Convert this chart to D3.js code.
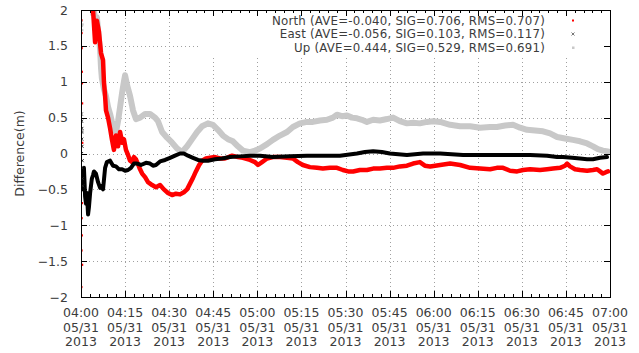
<!DOCTYPE html>
<html>
<head>
<meta charset="utf-8">
<script src="https://cdn.jsdelivr.net/npm/d3@7"></script>
<style>
  html, body { margin: 0; padding: 0; background: #fff; }
  svg { display: block; font-family: "DejaVu Sans", sans-serif; }
</style>
</head>
<body>
<svg id="chart" width="639" height="353"></svg>
<script>
// ---- data (minutes after 04:00 on 05/31/2013, difference in metres) ----
const upT = [4.1,4.4,4.8,5.1,5.4,6.1,6.5,6.8,7.1,7.8,8.5,9.2,9.9,10.5,11.2,11.9,12.6,13.3,14.0,14.6,15.0,15.7,16.7,17.7,18.7,20.1,21.8,23.5,25.2,26.2,27.6,29.3,31.0,32.7,34.4,36.1,37.8,39.5,41.2,43.2,44.9,46.6,48.3,50.0,51.7,53.4,55.1,57.5,59.2,60.9,63.3,65.3,67.7,70.1,72.1,74.5,76.9,78.9,81.3,83.7,85.7,87.1,88.8,90.5,92.2,93.9,95.6,97.3,99.4,101.7,104.1,106.2,108.5,110.9,113.0,115.3,117.7,119.8,122.2,125.6,129.0,132.4,135.8,139.2,141.5,144.3,147.0,149.4,151.8,154.5,157.2,159.6,162.0,164.7,167.4,169.8,172.2,174.2,175.9,177.6,179.3];
const upV = [1.95,2.0,1.85,1.7,1.9,1.6,1.45,1.2,1.05,0.9,0.8,0.65,0.55,0.45,0.35,0.3,0.45,0.65,0.85,1.0,1.09,0.95,0.8,0.6,0.48,0.5,0.55,0.55,0.5,0.45,0.3,0.22,0.15,0.07,0.02,0.1,0.2,0.3,0.38,0.42,0.4,0.33,0.25,0.2,0.17,0.1,0.04,0.02,0.04,0.07,0.13,0.19,0.25,0.3,0.37,0.42,0.44,0.44,0.46,0.47,0.5,0.54,0.52,0.53,0.5,0.49,0.47,0.44,0.47,0.46,0.48,0.5,0.45,0.42,0.43,0.42,0.44,0.45,0.44,0.4,0.38,0.38,0.36,0.37,0.37,0.39,0.4,0.36,0.33,0.32,0.31,0.28,0.23,0.21,0.19,0.17,0.14,0.1,0.06,0.04,0.03];

const eastT = [0.3,0.7,1.0,1.4,1.7,2.0,2.4,2.7,3.1,3.4,3.7,4.1,4.4,5.1,5.8,6.5,7.1,7.5,8.2,8.8,9.9,10.9,11.9,12.9,14.0,15.0,16.0,17.0,18.0,19.1,20.4,22.1,23.5,24.5,25.5,26.9,28.6,30.3,32.0,33.7,35.0,36.4,38.1,39.8,41.5,43.2,45.6,48.0,50.7,54.1,57.5,60.9,65.3,71.1,76.9,82.3,88.1,93.9,96.6,99.4,102.4,105.1,110.9,116.4,122.2,130.0,139.2,147.0,152.8,158.6,162.0,164.0,167.1,169.8,172.2,174.2,176.6,179.0];
const eastV = [-0.3,-0.5,-0.2,-0.6,-0.7,-0.55,-0.85,-0.75,-0.55,-0.45,-0.35,-0.3,-0.25,-0.28,-0.4,-0.48,-0.45,-0.5,-0.2,-0.12,-0.1,-0.17,-0.18,-0.22,-0.22,-0.24,-0.23,-0.2,-0.14,-0.14,-0.16,-0.13,-0.14,-0.17,-0.16,-0.11,-0.09,-0.06,-0.03,0.0,0.0,-0.03,-0.06,-0.09,-0.1,-0.1,-0.08,-0.07,-0.05,-0.04,-0.03,-0.03,-0.05,-0.04,-0.03,-0.03,-0.03,0.0,0.02,0.03,0.02,0.0,-0.02,0.0,0.0,-0.02,-0.02,-0.02,-0.02,-0.03,-0.05,-0.05,-0.06,-0.07,-0.08,-0.08,-0.06,-0.05];

const northT = [4.1,4.8,5.4,6.1,6.8,7.5,7.8,8.2,8.5,9.2,9.9,10.5,11.2,11.9,12.6,13.3,14.0,14.6,15.3,16.0,16.7,17.4,18.0,18.7,19.4,20.1,20.8,21.8,22.8,24.2,25.5,26.9,28.2,29.6,31.0,32.3,33.7,35.0,36.1,37.1,38.1,39.1,40.2,41.2,42.5,43.9,45.6,47.3,49.0,51.4,53.4,55.1,57.5,59.2,60.2,61.6,63.3,65.3,67.7,70.1,72.1,73.8,75.5,77.9,80.3,82.3,84.7,87.1,89.1,90.9,92.6,94.9,97.3,99.4,101.7,104.1,106.2,108.5,110.9,113.0,115.3,117.0,118.8,122.2,125.6,129.0,132.4,135.8,139.2,141.5,143.6,146.0,148.4,150.4,152.8,156.2,158.6,160.6,163.0,164.7,165.4,166.4,168.1,169.8,172.2,174.2,175.6,176.6,177.6,178.6,179.3];
const northV = [2.0,1.55,1.85,1.7,1.4,1.3,1.0,0.8,0.6,0.5,0.35,0.2,0.05,0.25,0.1,0.3,0.15,0.2,0.05,-0.02,-0.1,-0.12,-0.05,-0.08,-0.15,-0.22,-0.28,-0.33,-0.4,-0.44,-0.47,-0.44,-0.5,-0.55,-0.58,-0.56,-0.57,-0.54,-0.5,-0.42,-0.34,-0.25,-0.16,-0.1,-0.07,-0.06,-0.05,-0.07,-0.07,-0.03,-0.05,-0.06,-0.09,-0.12,-0.16,-0.12,-0.07,-0.05,-0.05,-0.06,-0.07,-0.12,-0.16,-0.19,-0.2,-0.21,-0.2,-0.2,-0.23,-0.25,-0.25,-0.23,-0.23,-0.21,-0.21,-0.2,-0.2,-0.18,-0.17,-0.14,-0.12,-0.17,-0.18,-0.16,-0.14,-0.16,-0.2,-0.21,-0.22,-0.2,-0.2,-0.24,-0.25,-0.23,-0.22,-0.23,-0.22,-0.21,-0.2,-0.17,-0.14,-0.18,-0.22,-0.23,-0.24,-0.23,-0.22,-0.25,-0.28,-0.26,-0.25];

// early scattered fixes during initial convergence
const northScatterT = [0.1,0.15,0.2,0.25,0.3,0.35,0.4,0.3,0.2,0.25,0.15,0.35,0.1];
const northScatterV = [1.86,1.68,1.47,1.14,0.98,0.7,0.15,-0.69,-0.9,-1.14,-1.35,-1.55,-1.86];
const eastScatterT = [0.1,0.2,0.3,0.15,0.25,0.35,0.2,0.4,0.3,0.5,0.6];
const eastScatterV = [0.55,0.45,0.35,0.3,0.2,0.1,0.0,-0.1,-0.2,-0.35,-0.45];
const upScatterT = [0.2,0.3,0.4,0.5,0.3,0.6];
const upScatterV = [1.85,1.78,1.72,1.8,0.45,0.3];

const xTickMinutes = [0,15,30,45,60,75,90,105,120,135,150,165,180];
const xTickTimes = ["04:00","04:15","04:30","04:45","05:00","05:15","05:30","05:45","06:00","06:15","06:30","06:45","07:00"];
const xTickDate = "05/31";
const xTickYear = "2013";
const yTicks = [-2,-1.5,-1,-0.5,0,0.5,1,1.5,2];
const legendLabels = [
  "North (AVE=-0.040, SIG=0.706, RMS=0.707)",
  "East (AVE=-0.056, SIG=0.103, RMS=0.117)",
  "Up (AVE=0.444, SIG=0.529, RMS=0.691)"
];

// ---- drawing ----
const svg = d3.select("#chart");
const L = 81, R = 610, T = 10, B = 297;
const x = d3.scaleLinear().domain([0, 180]).range([L, R]);
const y = d3.scaleLinear().domain([-2, 2]).range([B, T]);
const textColor = "#3c3c3c";

svg.append("rect").attr("width", 639).attr("height", 353).attr("fill", "#fff");

// grid
const grid = svg.append("g").attr("stroke", "#a0a0a0").attr("stroke-width", 1)
  .attr("stroke-dasharray", "1,3").attr("fill", "none");
xTickMinutes.slice(1, -1).forEach(m => {
  grid.append("line").attr("x1", Math.round(x(m)) + 0.5).attr("x2", Math.round(x(m)) + 0.5)
    .attr("y1", T).attr("y2", B);
});
yTicks.slice(1, -1).forEach(v => {
  grid.append("line").attr("y1", Math.round(y(v)) + 0.5).attr("y2", Math.round(y(v)) + 0.5)
    .attr("x1", L).attr("x2", R);
});

// key area hides grid
svg.append("rect").attr("x", 200).attr("y", T + 1).attr("width", R - 200 - 1).attr("height", 47).attr("fill", "#fff");

// series
svg.append("clipPath").attr("id", "plotclip").append("rect")
  .attr("x", L).attr("y", T).attr("width", R - L).attr("height", B - T);
const plot = svg.append("g").attr("clip-path", "url(#plotclip)");

function series(ts, vs, color, w) {
  const pts = ts.map((t, i) => [t, vs[i]]);
  const line = d3.line().x(d => x(d[0])).y(d => y(d[1])).curve(d3.curveLinear);
  plot.append("path").datum(pts).attr("d", line).attr("fill", "none")
    .attr("stroke", color).attr("stroke-width", w)
    .attr("stroke-linejoin", "round").attr("stroke-linecap", "round");
}
function scatter(ts, vs, color, kind) {
  ts.forEach((t, i) => {
    const cx = x(t), cy = y(vs[i]);
    if (kind === "x") {
      plot.append("path").attr("d", `M${cx-1.5},${cy-1.5}L${cx+1.5},${cy+1.5}M${cx-1.5},${cy+1.5}L${cx+1.5},${cy-1.5}`)
        .attr("stroke", color).attr("stroke-width", 1);
    } else {
      plot.append("rect").attr("x", cx - 1).attr("y", cy - 1).attr("width", 2.2).attr("height", 2.2).attr("fill", color);
    }
  });
}

const cUp = "#c8c8c8", cNorth = "#ff0000", cEast = "#000000";
series(upT, upV, cUp, 6);
scatter(upScatterT, upScatterV, cUp, "sq");
series(northT, northV, cNorth, 4.5);
scatter(northScatterT, northScatterV, cNorth, "sq");
series(eastT, eastV, cEast, 4);
scatter(eastScatterT, eastScatterV, "#222", "x");

// axes (gnuplot style, ticks pointing inward)
const minorTicks = d3.range(0, 181, 3).filter(m => m % 15 !== 0);
const axG = svg.append("g").attr("shape-rendering", "crispEdges");
axG.append("g").attr("transform", `translate(0,${B})`)
  .call(d3.axisBottom(x).tickValues(xTickMinutes).tickSize(-6).tickFormat(""));
axG.append("g").attr("transform", `translate(0,${B})`)
  .call(d3.axisBottom(x).tickValues(minorTicks).tickSize(-3).tickFormat(""));
axG.append("g").attr("transform", `translate(0,${T})`)
  .call(d3.axisTop(x).tickValues(xTickMinutes).tickSize(-6).tickFormat(""));
axG.append("g").attr("transform", `translate(0,${T})`)
  .call(d3.axisTop(x).tickValues(minorTicks).tickSize(-3).tickFormat(""));
const yl = axG.append("g").attr("transform", `translate(${L},0)`)
  .call(d3.axisLeft(y).tickValues(yTicks).tickSize(-6).tickPadding(13).tickFormat(d3.format("")));
axG.append("g").attr("transform", `translate(${R},0)`)
  .call(d3.axisRight(y).tickValues(yTicks).tickSize(-6).tickFormat(""));
axG.selectAll(".domain").remove();
axG.selectAll("line").attr("stroke", "#000");
yl.selectAll("text").attr("font-size", 12.5).attr("fill", textColor)
  .attr("font-family", "DejaVu Sans, sans-serif");

// border
svg.append("rect").attr("x", L + 0.5).attr("y", T + 0.5).attr("width", R - L).attr("height", B - T)
  .attr("fill", "none").attr("stroke", "#000").attr("stroke-width", 1);

// x tick labels (three lines)
const xl = svg.append("g").attr("font-size", 12.5).attr("fill", textColor).attr("text-anchor", "middle");
xTickMinutes.forEach((m, i) => {
  const t = xl.append("text").attr("x", x(m)).attr("y", 317);
  t.append("tspan").attr("x", x(m)).text(xTickTimes[i]);
  t.append("tspan").attr("x", x(m)).attr("dy", 14.6).text(xTickDate);
  t.append("tspan").attr("x", x(m)).attr("dy", 14.6).text(xTickYear);
});

// y axis title
svg.append("text").attr("transform", `translate(24,${(T + B) / 2}) rotate(-90)`)
  .attr("text-anchor", "middle").attr("font-size", 12.5).attr("fill", textColor).text("Difference(m)");

// legend
const lg = svg.append("g").attr("font-size", 11.8).attr("fill", textColor).attr("letter-spacing", 0.2);
const legY = [20.5, 34, 47.5];
legendLabels.forEach((s, i) => {
  lg.append("text").attr("x", 545).attr("y", legY[i] + 4.3).attr("text-anchor", "end").text(s);
});
lg.append("rect").attr("x", 572).attr("y", legY[0] - 1).attr("width", 2).attr("height", 2).attr("fill", cNorth);
lg.append("path").attr("d", `M571.5,${legY[1]-1.5}L574.5,${legY[1]+1.5}M571.5,${legY[1]+1.5}L574.5,${legY[1]-1.5}`)
  .attr("stroke", "#777").attr("stroke-width", 1);
lg.append("rect").attr("x", 572).attr("y", legY[2] - 1).attr("width", 2.5).attr("height", 2.5).attr("fill", cUp);
</script>
</body>
</html>
